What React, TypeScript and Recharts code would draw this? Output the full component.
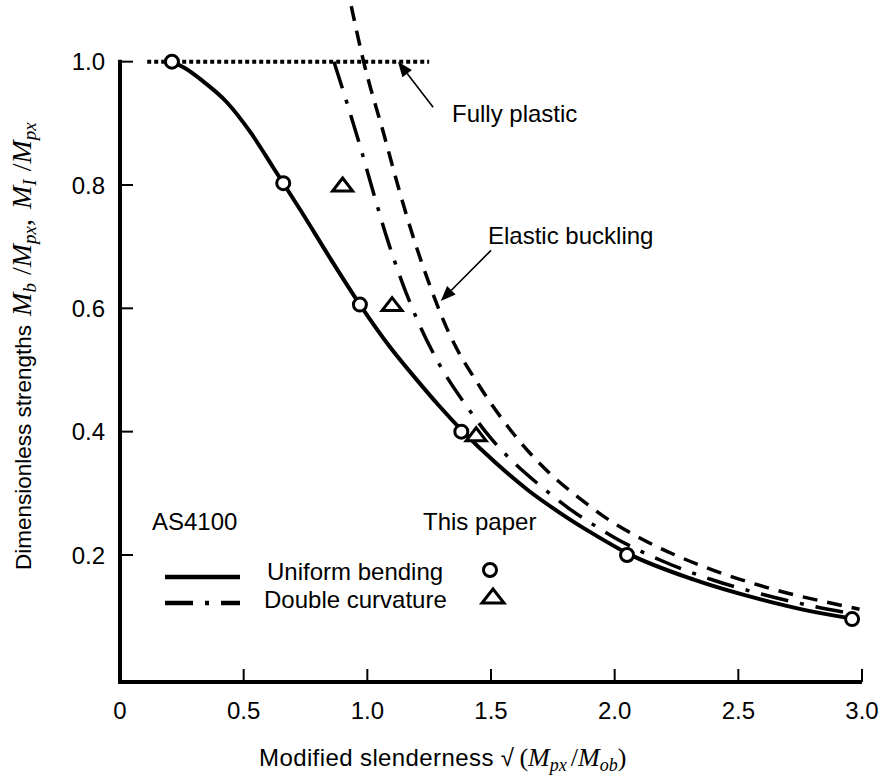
import React from "react";
import { ComposedChart, Line, Scatter, XAxis, YAxis, ReferenceLine } from "recharts";

const W = 887;
const H = 779;
const sans = '"Liberation Sans", Arial, sans-serif';
const serif = '"Liberation Serif", "Times New Roman", serif';

// axis ticks
const xTicks = [0, 0.5, 1, 1.5, 2, 2.5, 3];
const xTickLabels = ["0", "0.5", "1.0", "1.5", "2.0", "2.5", "3.0"];
const yTicks = [0.2, 0.4, 0.6, 0.8, 1.0];
const yTickLabels = ["0.2", "0.4", "0.6", "0.8", "1.0"];

// AS4100 uniform bending (solid)
const uniformX = [0.21, 0.26, 0.33, 0.43, 0.53, 0.62, 0.66, 0.73, 0.85, 0.97, 1.09, 1.2, 1.29, 1.38, 1.52, 1.65, 1.78, 1.91, 2.05, 2.32, 2.59, 2.79, 2.96];
const uniformY = [1.0, 0.99, 0.97, 0.935, 0.884, 0.828, 0.803, 0.759, 0.681, 0.606, 0.538, 0.484, 0.442, 0.403, 0.349, 0.305, 0.268, 0.235, 0.203, 0.16, 0.128, 0.109, 0.097];

// AS4100 double curvature (dash-dot)
const doubleX = [0.865, 0.92, 0.97, 1.025, 1.08, 1.14, 1.2, 1.29, 1.4, 1.5, 1.6, 1.7, 1.82, 1.91, 2.0, 2.2, 2.4, 2.6, 2.8, 2.96];
const doubleY = [1.0, 0.93, 0.864, 0.787, 0.713, 0.643, 0.583, 0.51, 0.442, 0.389, 0.347, 0.312, 0.274, 0.25, 0.228, 0.189, 0.159, 0.136, 0.117, 0.105];

// elastic buckling (dashed)
const elasticX = [0.935, 0.985, 1.065, 1.13, 1.19, 1.25, 1.33, 1.45, 1.59, 1.7, 1.89, 1.98, 2.1, 2.25, 2.4, 2.55, 2.7, 2.85, 2.99];
const elasticY = [1.09, 1.0, 0.885, 0.79, 0.71, 0.64, 0.56, 0.476, 0.397, 0.347, 0.282, 0.256, 0.228, 0.199, 0.175, 0.155, 0.138, 0.124, 0.112];

// this paper: uniform bending (circles) and double curvature (triangles)
const paperUniformX = [0.21, 0.66, 0.97, 1.38, 2.05, 2.96];
const paperUniformY = [1.0, 0.803, 0.606, 0.4, 0.2, 0.096];
const paperDoubleX = [0.9, 1.1, 1.44];
const paperDoubleY = [0.8, 0.606, 0.395];

// fully plastic line and annotation arrows
const plasticX = [0.11, 1.25];
const plasticY = 1.0;
const plasticArrow = [{ x: 1.266, y: 0.926 }, { x: 1.124, y: 1.0 }];
const elasticArrow = [{ x: 1.5, y: 0.694 }, { x: 1.297, y: 0.612 }];

const zip = (xs: number[], ys: number[]) => xs.map((x, i) => ({ x, y: ys[i] }));

const uniformData = zip(uniformX, uniformY);
const doubleData = zip(doubleX, doubleY);
const elasticData = zip(elasticX, elasticY);
const circlesData = zip(paperUniformX, paperUniformY);
const trianglesData = zip(paperDoubleX, paperDoubleY);

const DASH_DOT = "28 12 4 12";

function CircleMark(props: any) {
  const { cx, cy } = props;
  if (cx == null || cy == null) return null;
  return <circle cx={cx} cy={cy} r={6.5} fill="#fff" stroke="#000" strokeWidth={3} />;
}

function TriangleMark(props: any) {
  const { cx, cy } = props;
  if (cx == null || cy == null) return null;
  return (
    <path
      d={`M${cx},${cy - 7} L${cx + 10},${cy + 6} L${cx - 10},${cy + 6} Z`}
      fill="#fff"
      stroke="#000"
      strokeWidth={3}
    />
  );
}

function XTick(props: any) {
  const { x, y, payload, index } = props;
  return (
    <g>
      {payload.value !== 0 && <line x1={x} x2={x} y1={y} y2={y - 13} stroke="#000" strokeWidth={2} />}
      <text x={x} y={y + 37} textAnchor="middle" fontFamily={sans} fontSize={24} fill="#000">
        {xTickLabels[index]}
      </text>
    </g>
  );
}

function YTick(props: any) {
  const { x, y, index } = props;
  return (
    <g>
      <line x1={x} x2={x + 13} y1={y} y2={y} stroke="#000" strokeWidth={2} />
      <text x={x - 15} y={y} dy="0.36em" textAnchor="end" fontFamily={sans} fontSize={24} fill="#000">
        {yTickLabels[index]}
      </text>
    </g>
  );
}

function Arrow(props: any) {
  const { x1, y1, x2, y2 } = props;
  if ([x1, y1, x2, y2].some((v) => v == null)) return null;
  const a = Math.atan2(y2 - y1, x2 - x1);
  const len = 15;
  const half = 6;
  const bx = x2 - len * Math.cos(a);
  const by = y2 - len * Math.sin(a);
  const px = -Math.sin(a) * half;
  const py = Math.cos(a) * half;
  return (
    <g>
      <line x1={x1} y1={y1} x2={bx} y2={by} stroke="#000" strokeWidth={1.6} />
      <path d={`M${x2},${y2} L${bx + px},${by + py} L${bx - px},${by - py} Z`} fill="#000" />
    </g>
  );
}

export default function App() {
  return (
    <div style={{ position: "absolute", left: 0, top: 0, width: W, height: H, background: "#fff" }}>
      <ComposedChart width={W} height={H} margin={{ top: 0, right: 25, bottom: 0, left: 0 }}>
        <XAxis
          type="number"
          dataKey="x"
          domain={[0, 3]}
          ticks={xTicks}
          tick={<XTick />}
          tickLine={false}
          tickSize={0}
          tickMargin={0}
          height={97}
          axisLine={{ stroke: "#000", strokeWidth: 4 }}
          interval={0}
        />
        <YAxis
          type="number"
          dataKey="y"
          domain={[-0.006, 1.1]}
          ticks={yTicks}
          tick={<YTick />}
          tickLine={false}
          tickSize={0}
          tickMargin={0}
          width={120}
          axisLine={false}
          interval={0}
          allowDataOverflow
        />
        <ReferenceLine
          segment={[{ x: 0, y: 1.0 }, { x: 0, y: -0.006 }]}
          stroke="#000"
          strokeWidth={4}
          strokeLinecap="square"
        />
        <ReferenceLine
          segment={[{ x: plasticX[0], y: plasticY }, { x: plasticX[1], y: plasticY }]}
          stroke="#000"
          strokeWidth={4}
          strokeDasharray="4 3"
        />
        <ReferenceLine segment={plasticArrow} shape={<Arrow />} />
        <ReferenceLine segment={elasticArrow} shape={<Arrow />} />
        <Line
          data={elasticData}
          dataKey="y"
          type="monotone"
          stroke="#000"
          strokeWidth={3.5}
          strokeDasharray="15 10"
          dot={false}
          isAnimationActive={false}
        />
        <Line
          data={doubleData}
          dataKey="y"
          type="monotone"
          stroke="#000"
          strokeWidth={3.5}
          strokeDasharray={DASH_DOT}
          dot={false}
          isAnimationActive={false}
        />
        <Line
          data={uniformData}
          dataKey="y"
          type="monotone"
          stroke="#000"
          strokeWidth={4}
          dot={false}
          isAnimationActive={false}
        />
        <Scatter data={circlesData} dataKey="y" shape={<CircleMark />} isAnimationActive={false} />
        <Scatter data={trianglesData} dataKey="y" shape={<TriangleMark />} isAnimationActive={false} />
      </ComposedChart>

      <svg
        width={W}
        height={H}
        style={{ position: "absolute", left: 0, top: 0, pointerEvents: "none" }}
      >
        <g fontFamily={sans} fontSize={24} fill="#000">
          <text x={452} y={122}>Fully plastic</text>
          <text x={488} y={244}>Elastic buckling</text>
          <text x={152} y={530}>AS4100</text>
          <text x={423} y={530}>This paper</text>
          <text x={267} y={580}>Uniform bending</text>
          <text x={264} y={608}>Double curvature</text>
        </g>
        <line x1={165} x2={240} y1={577} y2={577} stroke="#000" strokeWidth={4.5} />
        <line x1={165} x2={240} y1={603} y2={603} stroke="#000" strokeWidth={4.5} strokeDasharray={DASH_DOT} />
        <circle cx={490} cy={570} r={6.5} fill="#fff" stroke="#000" strokeWidth={3} />
        <path d="M493,589 L504,603 L482,603 Z" fill="#fff" stroke="#000" strokeWidth={3} />

        {/* x-axis title */}
        <text x={259} y={766} fontFamily={sans} fontSize={24} letterSpacing={0.4} fill="#000">
          Modified slenderness √
          <tspan fontFamily={serif} fontSize={26} letterSpacing={0} dx={5}>(</tspan>
          <tspan fontFamily={serif} fontSize={26} letterSpacing={0} fontStyle="italic">M</tspan>
          <tspan fontFamily={serif} fontStyle="italic" letterSpacing={0} fontSize={18} dy={5}>px</tspan>
          <tspan fontFamily={serif} fontSize={26} letterSpacing={0} dy={-5} dx={4}>/</tspan>
          <tspan fontFamily={serif} fontSize={26} letterSpacing={0} fontStyle="italic">M</tspan>
          <tspan fontFamily={serif} fontStyle="italic" letterSpacing={0} fontSize={18} dy={5}>ob</tspan>
          <tspan fontFamily={serif} fontSize={26} letterSpacing={0} dy={-5}>)</tspan>
        </text>

        {/* y-axis title */}
        <text
          transform="translate(31,570) rotate(-90)"
          x={0}
          y={0}
          fontFamily={sans}
          fontSize={22.5}
          fill="#000"
        >
          Dimensionless strengths
          <tspan fontFamily={serif} fontSize={28} fontStyle="italic" dx={9}>M</tspan>
          <tspan fontFamily={serif} fontStyle="italic" fontSize={19} dy={5}>b</tspan>
          <tspan fontFamily={serif} fontSize={28} dy={-5} dx={8}>/</tspan>
          <tspan fontFamily={serif} fontSize={28} fontStyle="italic">M</tspan>
          <tspan fontFamily={serif} fontStyle="italic" fontSize={19} dy={5}>px</tspan>
          <tspan fontFamily={serif} fontSize={28} dy={-5}>, </tspan>
          <tspan fontFamily={serif} fontSize={28} fontStyle="italic" dx={3}>M</tspan>
          <tspan fontFamily={serif} fontStyle="italic" fontSize={19} dy={5}>I</tspan>
          <tspan fontFamily={serif} fontSize={28} dy={-5} dx={8}>/</tspan>
          <tspan fontFamily={serif} fontSize={28} fontStyle="italic">M</tspan>
          <tspan fontFamily={serif} fontStyle="italic" fontSize={19} dy={5}>px</tspan>
        </text>
      </svg>
    </div>
  );
}
